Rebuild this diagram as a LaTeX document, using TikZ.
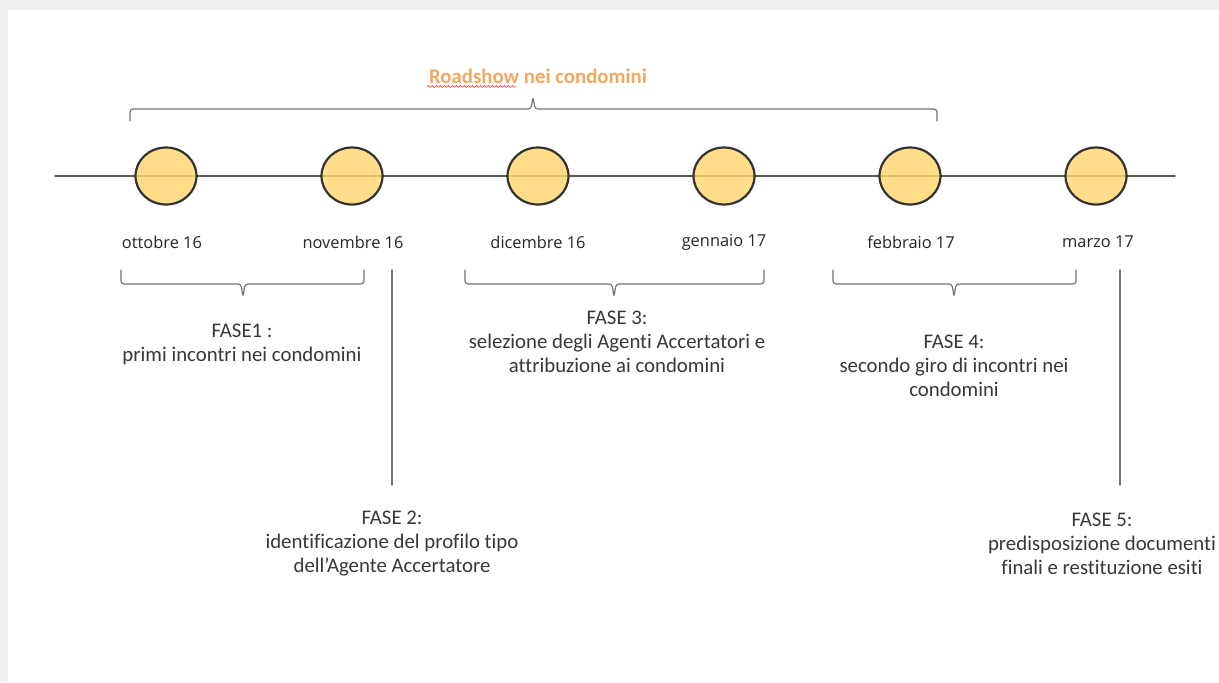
\documentclass[tikz,border=0pt]{standalone}
\usepackage{fontspec}
\setmainfont[Ligatures={NoCommon}]{Carlito}
\newfontfamily\datefont{Open Sans}
\usetikzlibrary{shapes.geometric,decorations.pathmorphing}

\definecolor{bggray}{HTML}{EEEEEE}
\definecolor{dotyellow}{HTML}{FFD670}
\definecolor{titleorange}{HTML}{F2A862}

\begin{document}
\begin{tikzpicture}[x=0.5pt,y=-0.5pt,line cap=round,line join=round,
    month/.style={shape=ellipse,draw=black!80,line width=1.1pt,fill=dotyellow,
      fill opacity=0.82,minimum width=30.5pt,minimum height=28.5pt,inner sep=0pt},
    monthlabel/.style={font=\datefont\fontsize{8.2}{10}\selectfont,text=black!85},
    phase/.style={align=center,font=\fontsize{10.4}{12}\selectfont,text=black!78},
    bracket/.style={draw=black!55,line width=0.6pt,rounded corners=1.5pt}]
  \useasboundingbox (0,0) rectangle (1219,682);
  \fill[bggray] (0,0) rectangle (1219,682);
  \fill[white] (8,10) rectangle (1219,682);

  % title and the long bracket
  \node[text=titleorange,font=\bfseries\fontsize{10.4}{12}\selectfont] (title) at (538,76) {Roadshow nei condomini};
  \draw[red!80,line width=0.3pt,decorate,decoration={snake,amplitude=0.5pt,segment length=2pt}]
    (title.south west) ++(5,-4) coordinate (wave-a) -- ++(89,0) coordinate (wave-b);
  \draw[bracket] (130,121) -- (130,109) -- (531,109) -- (533,97) -- (535,109) -- (937,109) -- (937,121);

  % timeline
  \coordinate (tl-west) at (55,176);
  \coordinate (tl-east) at (1175,176);
  \draw[black!65,line width=0.8pt] (tl-west) -- (tl-east);
  \foreach \x/\lx/\lab [count=\i] in {166/162/ottobre 16,352/353/novembre 16,538/538/dicembre 16,
      724/724/gennaio 17,910/911/febbraio 17,1096/1098/marzo 17}{
    \node[month] (m\i) at (\x,176) {};
    \node[monthlabel] (lab\i) at (\lx,242) {\lab};
  }

  % phases
  \node[phase] (fase1) at (242,344) {FASE1 :\\primi incontri nei condomini};
  \node[phase] (fase2) at (392,544) {FASE 2:\\identificazione del profilo tipo\\dell’Agente Accertatore};
  \node[phase] (fase3) at (617,342) {FASE 3:\\selezione degli Agenti Accertatori e\\attribuzione ai condomini};
  \node[phase] (fase4) at (954,366) {FASE 4:\\secondo giro di incontri nei\\condomini};
  \node[phase] (fase5) at (1102,544) {FASE 5:\\predisposizione documenti\\finali e restituzione esiti};

  \draw[bracket] (121,270) -- (121,284) -- (241,284) -- (243,297) -- (245,284) -- (364,284) -- (364,270);
  \draw[bracket] (465,270) -- (465,284) -- (612,284) -- (614,297) -- (616,284) -- (764,284) -- (764,270);
  \draw[bracket] (833,270) -- (833,284) -- (952,284) -- (954,297) -- (956,284) -- (1076,284) -- (1076,270);

  \coordinate (f2-top) at (392,270);
  \coordinate (f5-top) at (1120,270);
  \draw[black!55,line width=0.7pt] (f2-top) -- (392,485);
  \draw[black!55,line width=0.7pt] (f5-top) -- (1120,485);
\end{tikzpicture}
\end{document}
